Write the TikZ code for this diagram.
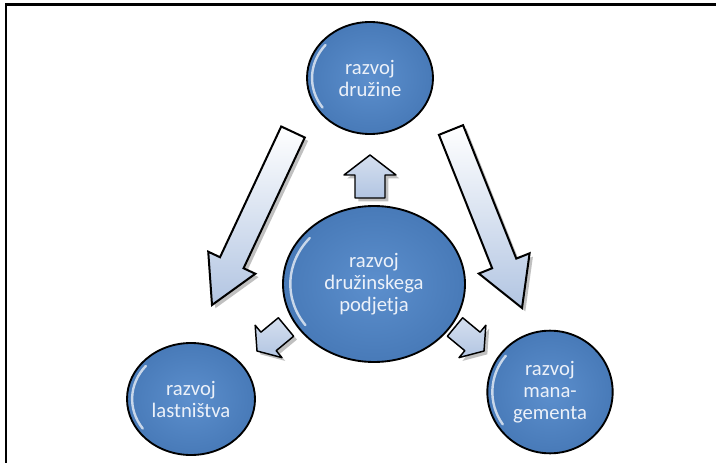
\documentclass[tikz,border=0pt]{standalone}
\usepackage{fontspec}
\setmainfont{Carlito}
\usetikzlibrary{shapes.geometric, calc}

\definecolor{bubbledark}{RGB}{72,122,184}
\definecolor{bubblelight}{RGB}{92,143,205}
\definecolor{bubbletext}{RGB}{236,241,249}
\definecolor{arrowblue}{RGB}{178,197,226}
\definecolor{arrowshadow}{RGB}{150,150,150}

\tikzset{
	bubble/.style={ellipse, draw=black, line width=1.4pt, inner color=bubblelight, outer color=bubbledark, text=bubbletext, align=center, inner sep=0pt, font=\fontsize{15.5}{16.5}\selectfont,
		path picture={
			\draw[white, line width=1.8pt, opacity=.7, line cap=round]
			let \p1=(path picture bounding box.north east), \p2=(path picture bounding box.center) in
			($(\p2)+({0.92*(\x1-\x2)*cos(140)},{0.92*(\y1-\y2)*sin(140)})$) arc[start angle=140, end angle=215, x radius={0.92*(\x1-\x2)}, y radius={0.92*(\y1-\y2)}];
		}},
	bigarrow/.style={draw=black, line width=1.5pt, line join=miter, top color=white, bottom color=arrowblue},
	smallarrow/.style={draw=black, line width=1.1pt, line join=round, top color=arrowblue!55, bottom color=arrowblue},
	arrowshade/.style={fill=arrowshadow, opacity=0.6},
}

% block arrow from tail to tip: half shaft, half head, head length
\newcommand{\blockarrow}[6][bigarrow]{%
	\coordinate (hb) at ($(#3)!#6!(#2)$);
	\fill[arrowshade, transform canvas={xshift=2.5pt, yshift=-2.5pt}] ($(#2)!#4!90:(#3)$) -- ($(hb)!#4!90:(#3)$) -- ($(hb)!#5!90:(#3)$) -- (#3) -- ($(hb)!#5!-90:(#3)$) -- ($(hb)!#4!-90:(#3)$) -- ($(#2)!#4!-90:(#3)$) -- cycle;
	\shade[#1] ($(#2)!#4!90:(#3)$) -- ($(hb)!#4!90:(#3)$) -- ($(hb)!#5!90:(#3)$) -- (#3) -- ($(hb)!#5!-90:(#3)$) -- ($(hb)!#4!-90:(#3)$) -- ($(#2)!#4!-90:(#3)$) -- cycle;
}

\begin{document}
\begin{tikzpicture}[x=0.75pt, y=-0.75pt]
	\useasboundingbox (0,0) rectangle (721,463);
	
	% frame
	\draw[line width=2.2pt] (6,463) -- (6,4.5) -- (716,4.5);
	
	\node (druzina) [bubble, minimum width=94.5pt, minimum height=84pt] at (370,78) {razvoj\\družine};
	\node (podjetje) [bubble, minimum width=136.5pt, minimum height=117pt] at (374,284) {razvoj\\družinskega\\podjetja};
	\node (lastnistvo) [bubble, minimum width=96pt, minimum height=84pt] at (191,399) {razvoj\\lastništva};
	\node (management) [bubble, minimum width=94pt, minimum height=92pt] at (550,392) {razvoj\\mana-\\gementa};
	
	\coordinate (ltail) at (293,132);
	\coordinate (ltip) at (212,305);
	\coordinate (rtail) at (451,130);
	\coordinate (rtip) at (522,308);
	\coordinate (utail) at (370,198);
	\coordinate (utip) at (370,155);
	\coordinate (bltail) at (286,327);
	\coordinate (bltip) at (257,351);
	\coordinate (brtail) at (455,327);
	\coordinate (brtip) at (484,351);
	
	\blockarrow{ltail}{ltip}{9.75pt}{19.5pt}{35pt}
	\blockarrow{rtail}{rtip}{9.75pt}{20.5pt}{36pt}
	\blockarrow[smallarrow]{utail}{utip}{11.25pt}{19.5pt}{15pt}
	\blockarrow[smallarrow]{bltail}{bltip}{9pt}{15.75pt}{11.25pt}
	\blockarrow[smallarrow]{brtail}{brtip}{9pt}{15.75pt}{11.25pt}
	
\end{tikzpicture}
\end{document}
